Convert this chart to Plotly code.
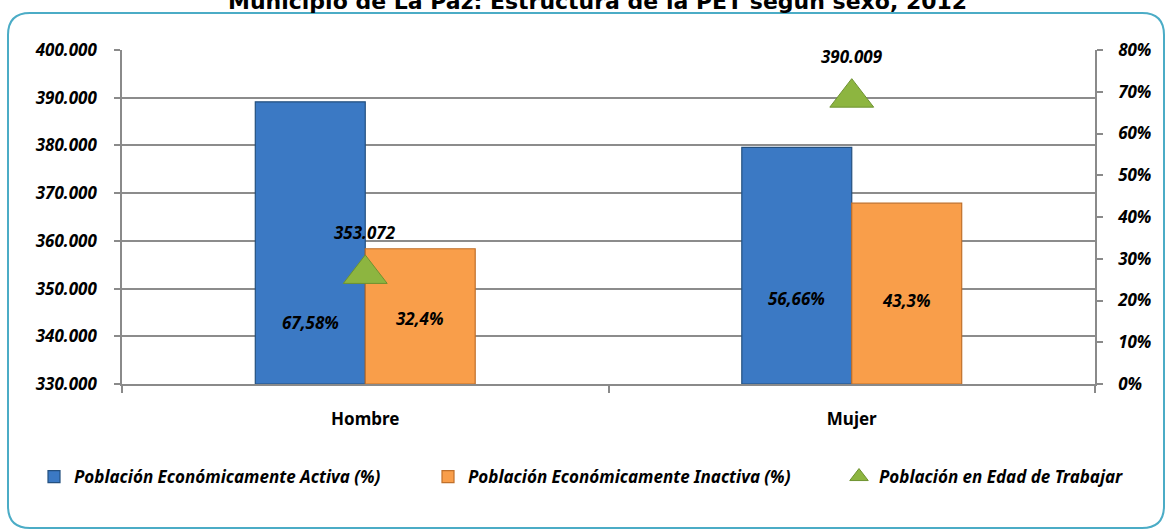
import plotly.graph_objects as go

categories = ["Hombre", "Mujer"]
pea = [67.58, 56.66]          # Población Económicamente Activa (%)
pei = [32.4, 43.3]            # Población Económicamente Inactiva (%)
pet = [353072, 390009]        # Población en Edad de Trabajar
pea_text = ["67,58%", "56,66%"]
pei_text = ["32,4%", "43,3%"]
pet_text = ["353.072", "390.009"]
pct_ticks = [0, 10, 20, 30, 40, 50, 60, 70, 80]
pct_ticktext = ["0%", "10%", "20%", "30%", "40%", "50%", "60%", "70%", "80%"]
pet_ticks = [330000, 340000, 350000, 360000, 370000, 380000, 390000, 400000]

W, H = 1167, 531
L, R, T, B = 122, 72, 50, 147
PW, PH = W - L - R, H - T - B

def px(x):
    return (x - L) / PW

def py(y):
    return (H - B - y) / PH

FONT = "Noto Sans"
BI = dict(family=FONT, size=17, color="black", weight="bold", style="italic")
AX = "#8a8a8a"

fig = go.Figure()
fig.add_trace(go.Bar(
    x=categories, y=pea, name="Población Económicamente Activa (%)",
    marker=dict(color="#3b79c4", line=dict(color="#24507f", width=1.2)),
    yaxis="y", offsetgroup="a", legend="legend"))
fig.add_trace(go.Bar(
    x=categories, y=pei, name="Población Económicamente Inactiva (%)",
    marker=dict(color="#f99e4a", line=dict(color="#c0702b", width=1.2)),
    yaxis="y", offsetgroup="b", legend="legend2"))
fig.add_trace(go.Scatter(
    x=categories, y=pet, name="Población en Edad de Trabajar", mode="markers",
    marker=dict(symbol="triangle-up", size=38, color="#8db540",
                line=dict(color="#6e9230", width=1)),
    yaxis="y2", legend="legend3"))

# data labels
pea_label_h = [14.8, 20.6]
pei_label_h = [15.8, 20.1]
for i, c in enumerate(categories):
    fig.add_annotation(x=c, y=pea_label_h[i], xref="x", yref="y", text=pea_text[i],
                       showarrow=False, xshift=-55, font=BI)
    fig.add_annotation(x=c, y=pei_label_h[i], xref="x", yref="y", text=pei_text[i],
                       showarrow=False, xshift=55, font=BI)
    fig.add_annotation(x=c, y=pet[i], xref="x", yref="y2", text=pet_text[i],
                       showarrow=False, yshift=41, font=BI)

# title (partially cut at the top)
fig.add_annotation(x=px(597), y=py(1), xref="paper", yref="paper",
                   text="Municipio de La Paz: Estructura de la PET según sexo, 2012",
                   showarrow=False, xanchor="center", yanchor="middle",
                   font=dict(family="DejaVu Sans", size=22, color="black", weight="bold"))

# rounded border
x0, x1, y0, y1, r = 8, 1164, 13, 528, 22
rx, ry = r / PW, r / PH
X0, X1, Y0, Y1 = px(x0), px(x1), py(y0), py(y1)
path = (f"M {X0+rx},{Y0} L {X1-rx},{Y0} Q {X1},{Y0} {X1},{Y0-ry} "
        f"L {X1},{Y1+ry} Q {X1},{Y1} {X1-rx},{Y1} "
        f"L {X0+rx},{Y1} Q {X0},{Y1} {X0},{Y1+ry} "
        f"L {X0},{Y0-ry} Q {X0},{Y0} {X0+rx},{Y0} Z")
fig.add_shape(type="path", path=path, xref="paper", yref="paper",
              line=dict(color="#4bacc6", width=2), layer="below")

LEGFONT = dict(family=FONT, size=17, color="black", weight="bold", style="italic")

def leg(xpix):
    return dict(orientation="h", xref="container", x=xpix / W, xanchor="left",
                yref="container", y=(H - 477) / H, yanchor="middle",
                font=LEGFONT, bgcolor="rgba(0,0,0,0)")

fig.update_layout(
    width=W, height=H,
    margin=dict(l=L, r=R, t=T, b=B, autoexpand=False),
    paper_bgcolor="white", plot_bgcolor="white",
    separators=",.",
    barmode="group", bargap=0.548, bargroupgap=0,
    showlegend=True,
    legend=leg(34), legend2=leg(428), legend3=leg(839),
    xaxis=dict(type="category", range=[-0.5, 1.5], showline=True, linecolor=AX, linewidth=1.5,
               ticks="outside", tickson="boundaries", ticklen=7, tickcolor=AX, tickwidth=1.5,
               showgrid=False, ticklabelstandoff=19,
               tickfont=dict(family=FONT, size=17, color="black", weight="bold")),
    yaxis=dict(side="right", range=[0, 80], tickvals=pct_ticks, ticktext=pct_ticktext,
               showgrid=False, zeroline=False, showline=True, linecolor=AX, linewidth=1.5,
               ticks="outside", ticklen=6, tickcolor=AX, tickwidth=1.5, ticklabelstandoff=12,
               tickfont=BI),
    yaxis2=dict(overlaying="y", side="left", range=[330000, 400000], tickvals=pet_ticks,
                tickformat=",d", showgrid=True, gridcolor="#8c8c8c", gridwidth=1.5,
                zeroline=False, showline=True, linecolor=AX, linewidth=1.5,
                ticks="outside", ticklen=6, tickcolor=AX, tickwidth=1.5, ticklabelstandoff=14,
                tickfont=BI),
)

fig.write_html("out.html", config={"displayModeBar": False},
               post_script="document.body.style.margin='0';")
